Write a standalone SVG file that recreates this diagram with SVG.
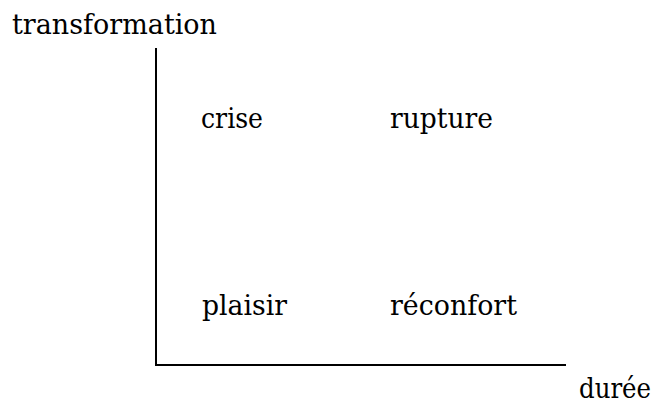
<svg xmlns="http://www.w3.org/2000/svg" width="659" height="413" viewBox="0 0 659 413">
<style>
text{font-family:"DejaVu Serif",serif;font-size:28px;fill:#000}
.axis{stroke:#000;stroke-width:2;fill:none}
</style>
<rect width="659" height="413" fill="#fff"/>
<g id="connectors">
<line class="axis" x1="156" y1="48" x2="156" y2="365"/>
<line class="axis" x1="155" y1="365" x2="566" y2="365"/>
</g>
<g id="label-transformation"><text x="12" y="34" textLength="205" lengthAdjust="spacingAndGlyphs">transformation</text></g>
<g id="node-crise"><text x="201" y="128" textLength="62" lengthAdjust="spacingAndGlyphs">crise</text></g>
<g id="node-rupture"><text x="390" y="128" textLength="103" lengthAdjust="spacingAndGlyphs">rupture</text></g>
<g id="node-plaisir"><text x="202" y="315" textLength="85" lengthAdjust="spacingAndGlyphs">plaisir</text></g>
<g id="node-reconfort"><text x="390" y="315" textLength="127" lengthAdjust="spacingAndGlyphs">réconfort</text></g>
<g id="label-duree"><text x="579" y="398" font-size="27" textLength="72" lengthAdjust="spacingAndGlyphs">durée</text></g>
</svg>
